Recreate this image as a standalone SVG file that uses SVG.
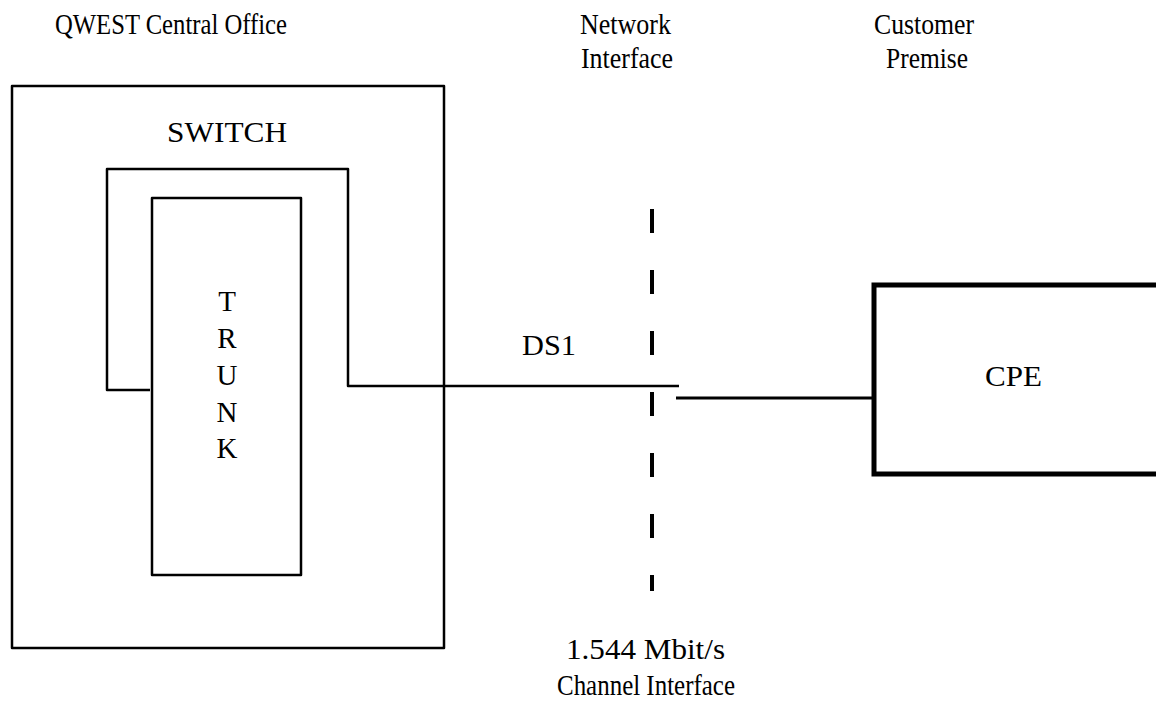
<svg xmlns="http://www.w3.org/2000/svg" width="1156" height="702" viewBox="0 0 1156 702">
<style>
text{font-family:"Liberation Serif","Times New Roman",serif;font-size:29px;fill:#000;text-anchor:middle}
.ln{fill:none;stroke:#000;stroke-width:2.5;stroke-linejoin:round}
</style>
<rect width="1156" height="702" fill="#fff"/>
<g id="labels">
<text x="171" y="34" textLength="232" lengthAdjust="spacingAndGlyphs">QWEST Central Office</text>
<text x="625.5" y="34" textLength="91" lengthAdjust="spacingAndGlyphs">Network</text>
<text x="627" y="68" textLength="92" lengthAdjust="spacingAndGlyphs">Interface</text>
<text x="924" y="34" textLength="100" lengthAdjust="spacingAndGlyphs">Customer</text>
<text x="927" y="68" textLength="82" lengthAdjust="spacingAndGlyphs">Premise</text>
<text x="645.5" y="659" textLength="159" lengthAdjust="spacingAndGlyphs">1.544 Mbit/s</text>
<text x="646" y="695" textLength="178" lengthAdjust="spacingAndGlyphs">Channel Interface</text>
<text x="549" y="355" textLength="54" lengthAdjust="spacingAndGlyphs">DS1</text>
</g>
<g id="central-office">
<rect class="ln" x="12" y="86" width="432" height="562"/>
<text x="227" y="142" textLength="120" lengthAdjust="spacingAndGlyphs">SWITCH</text>
</g>
<g id="trunk">
<rect class="ln" x="152" y="198" width="149" height="377"/>
<text x="227" y="311">T</text>
<text x="227" y="348">R</text>
<text x="227" y="385">U</text>
<text x="227" y="422">N</text>
<text x="227" y="458">K</text>
</g>
<g id="cpe">
<rect x="874" y="285" width="320" height="189" fill="none" stroke="#000" stroke-width="5"/>
<text x="1013.5" y="386" textLength="57" lengthAdjust="spacingAndGlyphs">CPE</text>
</g>
<g id="connectors">
<path class="ln" d="M150,390 H107 V169 H348 V386 H679"/>
<line x1="652" y1="209" x2="652" y2="591" stroke="#000" stroke-width="4" stroke-dasharray="24 37"/>
<line x1="676" y1="398" x2="874" y2="398" stroke="#000" stroke-width="3"/>
</g>
</svg>
